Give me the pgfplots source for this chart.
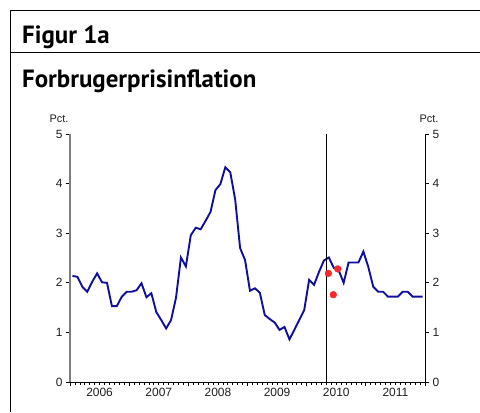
\documentclass[border=0pt]{standalone}
\usepackage{pgfplots}
\pgfplotsset{compat=1.18}
\usepackage{fontspec}
\setmainfont{Liberation Sans}
\newfontfamily\titlefont{PT Sans}
\definecolor{lineblue}{RGB}{15,15,155}
\definecolor{dotred}{RGB}{250,40,40}
\definecolor{txt}{RGB}{30,30,30}
\begin{document}
\begin{tikzpicture}[x=1bp,y=1bp]
\path[use as bounding box] (0,0) rectangle (480,412);
\draw[line width=1bp] (10.5,0) -- (10.5,401.5) -- (480,401.5);
\draw[line width=1bp] (10.5,360) -- (480,360);
\node[anchor=base west, inner sep=0pt, font=\titlefont\bfseries\fontsize{25}{28}\selectfont] at (22,369) {Figur 1a};
\node[anchor=base west, inner sep=0pt, font=\titlefont\bfseries\fontsize{25}{28}\selectfont] at (22,325) {Forbrugerprisinflation};
\node[font=\fontsize{11}{13}\selectfont, text=txt, inner sep=0pt] at (59,293.5) {Pct.};
\node[font=\fontsize{11}{13}\selectfont, text=txt, inner sep=0pt] at (429,293.5) {Pct.};
\begin{axis}[
 scale only axis, width=355bp, height=248bp, at={(70bp,30bp)}, anchor=south west,
 xmin=0, xmax=72, ymin=0, ymax=5,
 axis x line*=bottom, axis y line*=left,
 x axis line style={black, line width=0.8bp, -},
 y axis line style={gray, line width=1.6bp, -},
 xtick={0,12,...,72}, xticklabels={},
 minor xtick={1,...,71},
 extra x ticks={6,18,30,42,54,66},
 extra x tick labels={2006,2007,2008,2009,2010,2011},
 extra x tick style={major tick length=0pt},
 xticklabel style={yshift=-3bp},
 tick align=outside,
 major tick length=4bp, minor tick length=2.5bp,
 every tick/.style={black, line width=0.7bp},
 ytick={0,...,5},
 /pgf/number format/assume math mode=true,
 ticklabel style={font=\fontsize{12}{14}\selectfont, text=txt},
 clip=false,
]
\addplot[lineblue, line width=1.9bp] coordinates {
(0.5,2.14)(1.5,2.12)(2.5,1.92)(3.5,1.82)(4.5,2.02)(5.5,2.19)(6.5,2.01)(7.5,2.00)(8.5,1.53)(9.5,1.53)(10.5,1.72)(11.5,1.82)
(12.5,1.82)(13.5,1.85)(14.5,1.99)(15.5,1.71)(16.5,1.79)(17.5,1.41)(18.5,1.25)(19.5,1.08)(20.5,1.25)(21.5,1.70)(22.5,2.51)(23.5,2.33)
(24.5,2.96)(25.5,3.11)(26.5,3.08)(27.5,3.25)(28.5,3.43)(29.5,3.87)(30.5,3.99)(31.5,4.33)(32.5,4.23)(33.5,3.68)(34.5,2.70)(35.5,2.46)
(36.5,1.84)(37.5,1.89)(38.5,1.80)(39.5,1.35)(40.5,1.27)(41.5,1.20)(42.5,1.05)(43.5,1.11)(44.5,0.86)(45.5,1.05)(46.5,1.25)(47.5,1.45)
(48.5,2.06)(49.5,1.96)(50.5,2.22)(51.5,2.45)(52.5,2.51)(53.5,2.30)(54.5,2.25)(55.5,2.00)(56.5,2.41)(57.5,2.41)(58.5,2.41)(59.5,2.63)
(60.5,2.32)(61.5,1.92)(62.5,1.82)(63.5,1.82)(64.5,1.72)(65.5,1.72)(66.5,1.72)(67.5,1.82)(68.5,1.82)(69.5,1.72)(70.5,1.72)(71.5,1.72)
};
\addplot[black, line width=0.8bp] coordinates {(51.9,0)(51.9,5)};
\addplot[only marks, mark=*, mark size=3.4bp, dotred, mark options={draw=dotred, fill=dotred}] coordinates {(52.4,2.19)(54.3,2.28)(53.4,1.76)};
\end{axis}
\begin{axis}[
 scale only axis, width=355bp, height=248bp, at={(70bp,30bp)}, anchor=south west,
 xmin=0, xmax=72, ymin=0, ymax=5,
 axis x line=none, axis y line*=right,
 y axis line style={black, line width=0.8bp, -},
 ytick={0,...,5},
 tick align=outside, major tick length=4bp,
 every tick/.style={black, line width=0.7bp},
 /pgf/number format/assume math mode=true,
 ticklabel style={font=\fontsize{12}{14}\selectfont, text=txt},
]
\end{axis}
\end{tikzpicture}
\end{document}
